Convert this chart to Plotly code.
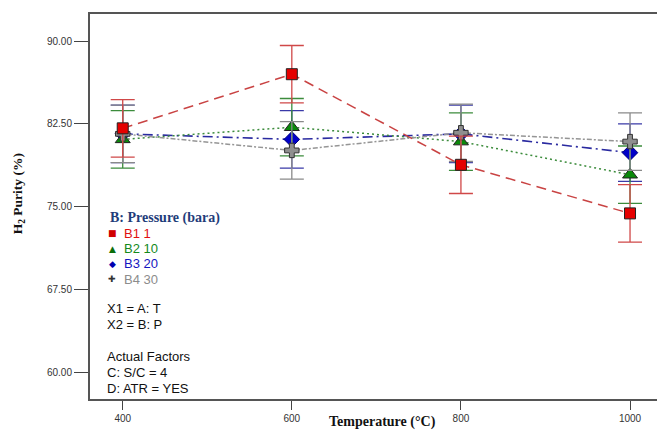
import plotly.graph_objects as go

# Interaction plot: H2 purity vs. temperature at four pressure levels
temperature = [400, 600, 800, 1000]
x_ticks = [400, 600, 800, 1000]
y_ticks = [60.0, 67.5, 75.0, 82.5, 90.0]

series_names = ["B1 1", "B2 10", "B3 20", "B4 30"]
purity_b1 = [82.1, 87.0, 78.8, 74.4]
purity_b2 = [81.1, 82.2, 80.9, 77.9]
purity_b3 = [81.6, 81.1, 81.6, 79.9]
purity_b4 = [81.6, 80.1, 81.7, 80.9]
lsd_half = [2.6, 2.6, 2.6, 2.6]

factor_lines = ["X1 = A: T", "X2 = B: P"]
actual_factor_lines = ["Actual Factors", "C: S/C = 4", "D: ATR = YES"]

W, H = 657, 431
L, R, T, B = 90, 0, 13.5, 32

styles = {
    "B1 1": dict(y=purity_b1, line=dict(color="#c94343", dash="10px,6px", width=1.5),
                 marker=dict(symbol="square", size=11, color="#e50000",
                             line=dict(color="#222", width=1)),
                 err="#d04848", text="#e01010", glyph="■", gcol="#d00000"),
    "B2 10": dict(y=purity_b2, line=dict(color="#3c8c3c", dash="2px,3px", width=1.5),
                  marker=dict(symbol="triangle-up", size=13, color="#0a8a0a",
                              line=dict(color="#222", width=1)),
                  err="#3c8c3c", text="#13891b", glyph="▲", gcol="#0a6e0a"),
    "B3 20": dict(y=purity_b3, line=dict(color="#2a2aa0", dash="10px,4px,2px,4px", width=1.6),
                  marker=dict(symbol="diamond", size=12, color="#0000c8",
                              line=dict(color="#000080", width=1)),
                  err="#3a3aa8", text="#1515c0", glyph="◆", gcol="#0000b0"),
    "B4 30": dict(y=purity_b4, line=dict(color="#959595", dash="2px,2px,5px,2px", width=1.5),
                  marker=dict(symbol="cross", size=12, color="#8f8f8f",
                              line=dict(color="#333", width=1)),
                  err="#8a8a8a", text="#8c8c8c", glyph="✚", gcol="#333333"),
}

fig = go.Figure()
for name in ["B3 20", "B2 10", "B4 30", "B1 1"]:
    s = styles[name]
    fig.add_trace(go.Scatter(
        x=temperature, y=s["y"], mode="lines+markers", name=name,
        line=s["line"], marker=s["marker"], showlegend=False,
        error_y=dict(type="data", array=lsd_half, color=s["err"],
                     thickness=1.3, width=12),
    ))


def px(xp):
    return (xp - L) / (W - L - R)


def py(yp):
    return (H - B - yp) / (H - B - T)


ann = []
# key title and entries
ann.append(dict(x=px(108), y=py(218), text="<b>B: Pressure (bara)</b>",
                xanchor="left", yanchor="middle",
                font=dict(family="Liberation Serif", size=14, color="#1f3d7a")))
for i, name in enumerate(series_names):
    s = styles[name]
    yy = 233 + i * 15.4
    ann.append(dict(x=px(112), y=py(yy), text=s["glyph"], xanchor="center",
                    yanchor="middle",
                    font=dict(family="DejaVu Sans", size=9, color=s["gcol"])))
    ann.append(dict(x=px(122), y=py(yy), text=name, xanchor="left",
                    yanchor="middle",
                    font=dict(family="Liberation Sans", size=13, color=s["text"])))
for i, t in enumerate(factor_lines):
    ann.append(dict(x=px(105), y=py(308 + i * 16.5), text=t, xanchor="left",
                    yanchor="middle",
                    font=dict(family="Liberation Sans", size=13, color="#111")))
for i, t in enumerate(actual_factor_lines):
    ann.append(dict(x=px(105), y=py(356 + i * 16.3), text=t, xanchor="left",
                    yanchor="middle",
                    font=dict(family="Liberation Sans", size=13, color="#111")))
# axis titles
ann.append(dict(x=px(382), y=py(422), text="<b>Temperature (°C)</b>",
                xanchor="center", yanchor="middle",
                font=dict(family="Liberation Serif", size=14, color="#111")))
ann.append(dict(x=px(18), y=py(194), text="<b>H<sub>2</sub> Purity (%)</b>",
                textangle=-90, xanchor="center", yanchor="middle",
                font=dict(family="Liberation Serif", size=13.5, color="#111")))
for a in ann:
    a.update(xref="paper", yref="paper", showarrow=False)

fig.update_layout(
    width=W, height=H,
    margin=dict(l=L, r=R, t=T, b=B),
    paper_bgcolor="white", plot_bgcolor="white",
    annotations=ann,
    xaxis=dict(range=[361.3, 1031.9], tickvals=x_ticks,
               ticktext=[str(v) for v in x_ticks],
               showgrid=False, zeroline=False,
               showline=True, linecolor="#555", linewidth=2, mirror=True,
               ticks="outside", ticklen=9, tickwidth=1.3, tickcolor="#444",
               tickfont=dict(family="Liberation Sans", size=10, color="#333")),
    yaxis=dict(range=[57.6, 92.45], tickvals=y_ticks,
               ticktext=[f"{v:.2f}" for v in y_ticks],
               showgrid=False, zeroline=False,
               showline=True, linecolor="#555", linewidth=2,
               ticks="outside", ticklen=14, tickwidth=1.3, tickcolor="#444",
               tickfont=dict(family="Liberation Sans", size=10, color="#333")),
)

fig.write_html("out.html")
